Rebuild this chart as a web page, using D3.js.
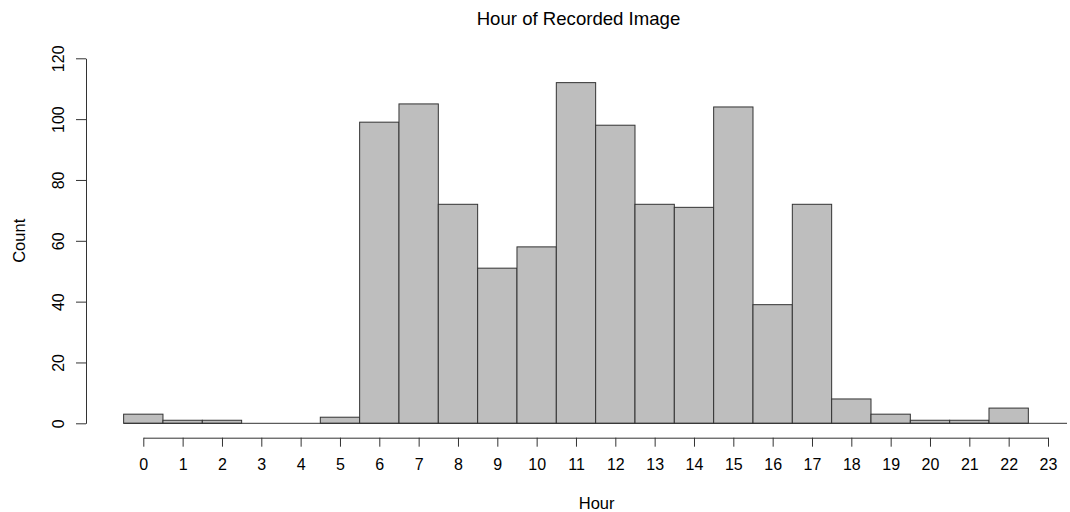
<!DOCTYPE html>
<html><head><meta charset="utf-8">
<script src="https://cdn.jsdelivr.net/npm/d3@7"></script>
<style>body{margin:0;background:#fff}text{font-family:"Liberation Sans",Arial,sans-serif;fill:#000}</style>
</head><body><svg id="c" width="1070" height="512"></svg>
<script>
const hours = d3.range(0, 23);
const counts = [3,1,1,0,0,2,99,105,72,51,58,112,98,72,71,104,39,72,8,3,1,1,5];
const xTicks = d3.range(0, 24);
const yTicks = [0,20,40,60,80,100,120];
const title = "Hour of Recorded Image", xTitle = "Hour", yTitle = "Count";

const svg = d3.select("#c");
const x = d3.scaleLinear().domain([0, 23]).range([143.3, 1048]);
const y = d3.scaleLinear().domain([0, 120]).range([423.3, 58.3]);

svg.append("g").selectAll("rect").data(hours).join("rect")
  .attr("x", d => x(d - 0.5)).attr("width", d => x(d + 0.5) - x(d - 0.5))
  .attr("y", (d,i) => y(counts[i])).attr("height", (d,i) => y(0) - y(counts[i]))
  .attr("fill", "#bebebe").attr("stroke", "#333").attr("stroke-width", 1);

svg.append("line").attr("x1", x(-0.5)).attr("x2", 1067).attr("y1", y(0)).attr("y2", y(0))
  .attr("stroke", "#333");

const xa = svg.append("g").attr("transform", "translate(0,437.7)")
  .call(d3.axisBottom(x).tickValues(xTicks).tickSize(9).tickPadding(12).tickSizeOuter(0));
xa.select(".domain").attr("stroke", "#333");
xa.selectAll(".tick line").attr("stroke", "#333");
xa.selectAll("text").attr("font-size", 16).attr("font-family", "Liberation Sans, Arial, sans-serif");

const ya = svg.append("g").attr("transform", "translate(86,0)")
  .call(d3.axisLeft(y).tickValues(yTicks).tickSize(10).tickSizeOuter(0));
ya.select(".domain").attr("stroke", "#333");
ya.selectAll(".tick line").attr("stroke", "#333");
ya.selectAll(".tick text").attr("font-size", 16).attr("font-family", "Liberation Sans, Arial, sans-serif")
  .attr("x", 0).attr("dy", 0)
  .attr("transform", "translate(-28,0) rotate(-90)").attr("text-anchor", "middle").attr("dominant-baseline", "central");

svg.append("text").attr("x", 578.5).attr("y", 25).attr("text-anchor", "middle").attr("font-size", 18.6).text(title);
svg.append("text").attr("x", x(11.5)+1).attr("y", 509).attr("text-anchor", "middle").attr("font-size", 16.5).text(xTitle);
svg.append("text").attr("transform", "translate(24.5,240.8) rotate(-90)").attr("text-anchor", "middle").attr("font-size", 16.5).text(yTitle);
</script></body></html>
